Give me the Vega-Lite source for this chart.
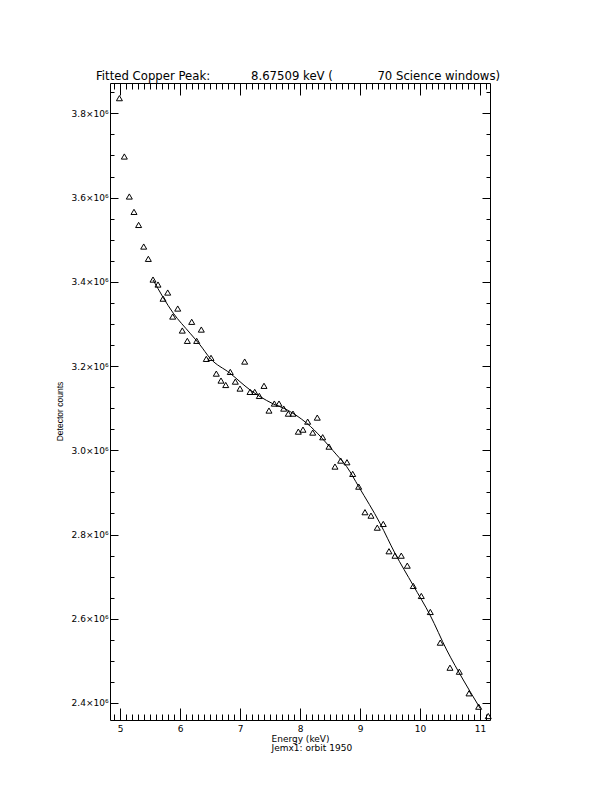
{
  "$schema": "https://vega.github.io/schema/vega-lite/v6.json",
  "width": 380,
  "height": 637,
  "autosize": {"type": "none"},
  "padding": {"left": 110, "top": 83, "right": 122, "bottom": 72},
  "background": "white",
  "title": {
    "text": "Fitted Copper Peak:\u00a0\u00a0\u00a0\u00a0\u00a0\u00a0\u00a0\u00a0\u00a0\u00a0\u00a08.67509 keV (\u00a0\u00a0\u00a0\u00a0\u00a0\u00a0\u00a0\u00a0\u00a0\u00a0\u00a0\u00a070 Science windows)",
    "font": "DejaVu Sans",
    "fontSize": 11.7,
    "fontWeight": "normal",
    "color": "black",
    "anchor": "middle",
    "frame": "group",
    "baseline": "alphabetic",
    "offset": -9,
    "dx": -2
  },
  "datasets": {
    "pts": [
      {"energy": 4.99, "counts": 3836000},
      {"energy": 5.072, "counts": 3697500},
      {"energy": 5.155, "counts": 3602500},
      {"energy": 5.233, "counts": 3566000},
      {"energy": 5.31, "counts": 3535000},
      {"energy": 5.395, "counts": 3483700},
      {"energy": 5.472, "counts": 3454500},
      {"energy": 5.55, "counts": 3405300},
      {"energy": 5.633, "counts": 3393500},
      {"energy": 5.717, "counts": 3360000},
      {"energy": 5.795, "counts": 3374500},
      {"energy": 5.878, "counts": 3317500},
      {"energy": 5.962, "counts": 3336500},
      {"energy": 6.038, "counts": 3284300},
      {"energy": 6.122, "counts": 3259800},
      {"energy": 6.195, "counts": 3305000},
      {"energy": 6.278, "counts": 3259800},
      {"energy": 6.355, "counts": 3286600},
      {"energy": 6.438, "counts": 3217000},
      {"energy": 6.517, "counts": 3219400},
      {"energy": 6.605, "counts": 3182000},
      {"energy": 6.683, "counts": 3165500},
      {"energy": 6.762, "counts": 3155000},
      {"energy": 6.838, "counts": 3186000},
      {"energy": 6.922, "counts": 3163000},
      {"energy": 7.0, "counts": 3146500},
      {"energy": 7.078, "counts": 3210600},
      {"energy": 7.167, "counts": 3138600},
      {"energy": 7.245, "counts": 3138600},
      {"energy": 7.322, "counts": 3129000},
      {"energy": 7.4, "counts": 3153000},
      {"energy": 7.483, "counts": 3094300},
      {"energy": 7.572, "counts": 3110900},
      {"energy": 7.65, "counts": 3110900},
      {"energy": 7.728, "counts": 3099000},
      {"energy": 7.805, "counts": 3087000},
      {"energy": 7.883, "counts": 3087000},
      {"energy": 7.972, "counts": 3044300},
      {"energy": 8.05, "counts": 3049000},
      {"energy": 8.128, "counts": 3068000},
      {"energy": 8.212, "counts": 3042000},
      {"energy": 8.288, "counts": 3077600},
      {"energy": 8.378, "counts": 3031000},
      {"energy": 8.483, "counts": 3008700},
      {"energy": 8.583, "counts": 2961300},
      {"energy": 8.678, "counts": 2975500},
      {"energy": 8.783, "counts": 2971600},
      {"energy": 8.878, "counts": 2943900},
      {"energy": 8.978, "counts": 2913700},
      {"energy": 9.083, "counts": 2853000},
      {"energy": 9.183, "counts": 2844800},
      {"energy": 9.288, "counts": 2816300},
      {"energy": 9.388, "counts": 2825100},
      {"energy": 9.483, "counts": 2760300},
      {"energy": 9.583, "counts": 2749800},
      {"energy": 9.688, "counts": 2749800},
      {"energy": 9.788, "counts": 2726100},
      {"energy": 9.888, "counts": 2677900},
      {"energy": 10.022, "counts": 2654100},
      {"energy": 10.172, "counts": 2616100},
      {"energy": 10.338, "counts": 2543300},
      {"energy": 10.5, "counts": 2483800},
      {"energy": 10.655, "counts": 2474300},
      {"energy": 10.817, "counts": 2423000},
      {"energy": 10.978, "counts": 2391200},
      {"energy": 11.138, "counts": 2369000}
    ],
    "fit": [
      {"energy": 5.55, "counts": 3404600},
      {"energy": 5.888, "counts": 3325500},
      {"energy": 6.167, "counts": 3278000},
      {"energy": 6.333, "counts": 3250300},
      {"energy": 6.5, "counts": 3218700},
      {"energy": 6.833, "counts": 3183000},
      {"energy": 7.167, "counts": 3143400},
      {"energy": 7.333, "counts": 3127500},
      {"energy": 7.555, "counts": 3110000},
      {"energy": 7.75, "counts": 3098500},
      {"energy": 8.112, "counts": 3064300},
      {"energy": 8.612, "counts": 2989000},
      {"energy": 8.778, "counts": 2961200},
      {"energy": 8.978, "counts": 2913700},
      {"energy": 9.333, "counts": 2826800},
      {"energy": 9.583, "counts": 2755500},
      {"energy": 9.888, "counts": 2679000},
      {"energy": 10.167, "counts": 2609000},
      {"energy": 10.445, "counts": 2525900},
      {"energy": 10.722, "counts": 2454600},
      {"energy": 11.0, "counts": 2388100}
    ]
  },
  "resolve": {"axis": {"x": "independent", "y": "independent"}},
  "layer": [
    {
      "data": {"name": "pts"},
      "mark": {"type": "point", "shape": "triangle-up", "filled": false, "stroke": "black", "strokeWidth": 1, "size": 36, "opacity": 1},
      "encoding": {
        "x": {"field": "energy", "type": "quantitative",
          "scale": {"domain": [4.833, 11.167], "nice": false, "zero": false},
          "axis": {"orient": "bottom", "values": [5, 6, 7, 8, 9, 10, 11], "tickSize": -12, "labelPadding": 16, "labelFlush": false, "labelOverlap": false,
            "title": ["Energy (keV)", "Jemx1: orbit 1950"], "titleAlign": "left", "titleAnchor": "start", "titleX": 161, "titleY": 21, "titleBaseline": "alphabetic", "titleLineHeight": 9}},
        "y": {"field": "counts", "type": "quantitative",
          "scale": {"domain": [2359600, 3872000], "nice": false, "zero": false},
          "axis": {"orient": "left", "values": [2400000, 2600000, 2800000, 3000000, 3200000, 3400000, 3600000, 3800000], "tickSize": -8, "labelPadding": 10, "labelFlush": false, "labelOverlap": false,
            "labelExpr": "format(datum.value/1000000, '.1f') + '×10⁶'",
            "title": "Detector counts", "titleX": -51, "titleY": 328, "titleAngle": -90, "titleBaseline": "middle", "titleAlign": "center", "titleFont": "Liberation Sans", "titleFontSize": 8.5}}
      }
    },
    {
      "data": {"name": "fit"},
      "mark": {"type": "line", "color": "black", "strokeWidth": 1, "interpolate": "monotone"},
      "encoding": {
        "x": {"field": "energy", "type": "quantitative",
          "scale": {"domain": [4.833, 11.167], "nice": false, "zero": false},
          "axis": {"orient": "bottom", "values": [4.9, 5.1, 5.2, 5.3, 5.4, 5.5, 5.6, 5.7, 5.8, 5.9, 6.1, 6.2, 6.3, 6.4, 6.5, 6.6, 6.7, 6.8, 6.9, 7.1, 7.2, 7.3, 7.4, 7.5, 7.6, 7.7, 7.8, 7.9, 8.1, 8.2, 8.3, 8.4, 8.5, 8.6, 8.7, 8.8, 8.9, 9.1, 9.2, 9.3, 9.4, 9.5, 9.6, 9.7, 9.8, 9.9, 10.1, 10.2, 10.3, 10.4, 10.5, 10.6, 10.7, 10.8, 10.9, 11.1], "tickSize": -6, "labels": false, "title": null}},
        "y": {"field": "counts", "type": "quantitative",
          "scale": {"domain": [2359600, 3872000], "nice": false, "zero": false},
          "axis": {"orient": "left", "values": [2450000, 2500000, 2550000, 2650000, 2700000, 2750000, 2850000, 2900000, 2950000, 3050000, 3100000, 3150000, 3250000, 3300000, 3350000, 3450000, 3500000, 3550000, 3650000, 3700000, 3750000, 3850000], "tickSize": -4, "labels": false, "title": null}}
      }
    },
    {
      "data": {"name": "fit"},
      "mark": {"type": "line", "opacity": 0},
      "encoding": {
        "x": {"field": "energy", "type": "quantitative",
          "scale": {"domain": [4.833, 11.167], "nice": false, "zero": false},
          "axis": {"orient": "top", "values": [5, 6, 7, 8, 9, 10, 11], "tickSize": -12, "labels": false, "title": null}},
        "y": {"field": "counts", "type": "quantitative",
          "scale": {"domain": [2359600, 3872000], "nice": false, "zero": false},
          "axis": {"orient": "right", "values": [2400000, 2600000, 2800000, 3000000, 3200000, 3400000, 3600000, 3800000], "tickSize": -8, "labels": false, "title": null}}
      }
    },
    {
      "data": {"name": "fit"},
      "mark": {"type": "line", "opacity": 0},
      "encoding": {
        "x": {"field": "energy", "type": "quantitative",
          "scale": {"domain": [4.833, 11.167], "nice": false, "zero": false},
          "axis": {"orient": "top", "values": [4.9, 5.1, 5.2, 5.3, 5.4, 5.5, 5.6, 5.7, 5.8, 5.9, 6.1, 6.2, 6.3, 6.4, 6.5, 6.6, 6.7, 6.8, 6.9, 7.1, 7.2, 7.3, 7.4, 7.5, 7.6, 7.7, 7.8, 7.9, 8.1, 8.2, 8.3, 8.4, 8.5, 8.6, 8.7, 8.8, 8.9, 9.1, 9.2, 9.3, 9.4, 9.5, 9.6, 9.7, 9.8, 9.9, 10.1, 10.2, 10.3, 10.4, 10.5, 10.6, 10.7, 10.8, 10.9, 11.1], "tickSize": -6, "labels": false, "title": null}},
        "y": {"field": "counts", "type": "quantitative",
          "scale": {"domain": [2359600, 3872000], "nice": false, "zero": false},
          "axis": {"orient": "right", "values": [2450000, 2500000, 2550000, 2650000, 2700000, 2750000, 2850000, 2900000, 2950000, 3050000, 3100000, 3150000, 3250000, 3300000, 3350000, 3450000, 3500000, 3550000, 3650000, 3700000, 3750000, 3850000], "tickSize": -4, "labels": false, "title": null}}
      }
    }
  ],
  "config": {
    "view": {"stroke": "black", "strokeWidth": 1},
    "axis": {"grid": false, "domain": false, "ticks": true, "tickColor": "black", "tickWidth": 1, "labelColor": "black", "titleColor": "black",
      "labelFont": "DejaVu Sans", "labelFontSize": 9, "titleFont": "DejaVu Sans", "titleFontSize": 9, "titleFontWeight": "normal"}
  }
}
